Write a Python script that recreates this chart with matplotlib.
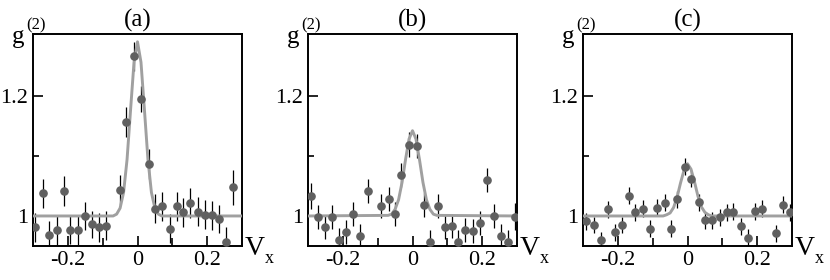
import numpy as np
import matplotlib
matplotlib.use("Agg")
import matplotlib.pyplot as plt
from matplotlib.ticker import FixedLocator

plt.rcParams['font.family'] = ['Liberation Serif', 'DejaVu Serif']
plt.rcParams['axes.unicode_minus'] = False

# panel (a)
xa = [-0.293, -0.271, -0.254, -0.232, -0.210, -0.193, -0.170, -0.151, -0.130, -0.111,
      -0.090, -0.049, -0.032, -0.009, 0.011, 0.032, 0.051, 0.071, 0.094, 0.113,
      0.131, 0.152, 0.173, 0.193, 0.214, 0.235, 0.254, 0.274]
ya = [0.981, 1.038, 0.968, 0.977, 1.042, 0.977, 0.976, 1.000, 0.986, 0.981,
      0.984, 1.044, 1.156, 1.266, 1.195, 1.086, 1.012, 1.016, 0.979, 1.016,
      1.006, 1.022, 1.007, 1.002, 1.001, 0.995, 0.956, 1.048]
ea = [0.024, 0.024, 0.024, 0.025, 0.025, 0.024, 0.024, 0.024, 0.022, 0.024,
      0.024, 0.025, 0.025, 0.024, 0.022, 0.025, 0.024, 0.024, 0.024, 0.024,
      0.024, 0.025, 0.024, 0.024, 0.024, 0.024, 0.025, 0.029]

# panel (b)
xb = [-0.291, -0.271, -0.251, -0.230, -0.211, -0.191, -0.170, -0.151, -0.129, -0.090,
      -0.068, -0.049, -0.032, -0.009, 0.012, 0.032, 0.051, 0.072, 0.094, 0.113,
      0.132, 0.152, 0.173, 0.195, 0.214, 0.235, 0.255, 0.275, 0.295]
yb = [1.033, 0.998, 0.982, 0.999, 0.960, 0.973, 1.003, 0.966, 1.042, 1.016,
      1.028, 1.004, 1.068, 1.119, 1.117, 1.019, 0.956, 1.016, 0.982, 0.984,
      0.956, 0.976, 0.975, 0.989, 1.060, 1.000, 0.967, 0.956, 0.999]
eb = [0.022, 0.020, 0.020, 0.020, 0.020, 0.020, 0.020, 0.020, 0.020, 0.020,
      0.020, 0.020, 0.020, 0.020, 0.020, 0.020, 0.020, 0.020, 0.020, 0.020,
      0.020, 0.020, 0.020, 0.020, 0.020, 0.020, 0.020, 0.020, 0.022]

# panel (c)
xc = [-0.291, -0.269, -0.249, -0.228, -0.209, -0.188, -0.167, -0.150, -0.129, -0.107,
      -0.088, -0.066, -0.048, -0.030, -0.008, 0.011, 0.033, 0.050, 0.071, 0.094,
      0.113, 0.132, 0.154, 0.175, 0.195, 0.215, 0.255, 0.275, 0.295]
yc = [0.991, 0.985, 0.960, 1.011, 0.973, 0.985, 1.034, 1.006, 1.012, 0.979,
      1.014, 1.022, 0.979, 1.028, 1.082, 1.062, 1.023, 0.993, 0.993, 0.998,
      1.006, 1.007, 0.983, 0.964, 1.008, 1.012, 0.971, 1.019, 1.006]
ec = [0.014] * 29

# fit curves
fit_x = [-0.3, -0.07, -0.06, -0.05, -0.04, -0.03, -0.02, -0.01, 0.0,
         0.01, 0.02, 0.03, 0.04, 0.05, 0.06, 0.07, 0.3]
fit_a = [1.0, 1.0, 1.003, 1.013, 1.039, 1.094, 1.176, 1.256, 1.29,
         1.256, 1.176, 1.094, 1.039, 1.013, 1.003, 1.0, 1.0]
fit_b = [1.0, 1.001, 1.003, 1.011, 1.027, 1.056, 1.094, 1.128, 1.142,
         1.128, 1.094, 1.056, 1.027, 1.011, 1.003, 1.001, 1.0]
fit_c = [1.0, 1.0, 1.002, 1.005, 1.014, 1.031, 1.055, 1.076, 1.087,
         1.078, 1.057, 1.033, 1.015, 1.006, 1.002, 1.0, 1.0]

panels = [("(a)", xa, ya, ea, fit_a), ("(b)", xb, yb, eb, fit_b), ("(c)", xc, yc, ec, fit_c)]
lefts = [33, 308, 583]

fig = plt.figure(figsize=(8.3, 2.8), dpi=100)

for (title, x, y, e, fit), l in zip(panels, lefts):
    ax = fig.add_axes([l / 830, 1 - 246 / 280, 209 / 830, 212 / 280])
    ax.errorbar(x, y, yerr=e, fmt='none', ecolor='black', elinewidth=0.9, capsize=0, zorder=2)
    ax.plot(fit_x, fit, color='#a0a0a0', lw=2.1, zorder=3, solid_joinstyle='round')
    ax.plot(x, y, 'o', color='#606060', ms=5.2, mec='#606060', zorder=4)
    ax.set_xlim(-0.3, 0.3)
    ax.set_ylim(0.95, 1.303)
    ax.set_xticks([-0.2, 0, 0.2])
    ax.set_xticklabels(['-0.2', '0', '0.2'])
    ax.xaxis.set_minor_locator(FixedLocator([-0.1, 0.1]))
    ax.set_yticks([1.0, 1.2])
    ax.set_yticklabels(['1', '1.2'])
    ax.yaxis.set_minor_locator(FixedLocator([1.1]))
    ax.tick_params(which='both', direction='in', top=False, right=False, labelsize=16)
    ax.tick_params(which='major', length=7, width=1.2, pad=3.5)
    ax.tick_params(which='minor', length=4, width=1.2)
    ax.tick_params(axis='x', which='minor', length=6)
    for s in ax.spines.values():
        s.set_linewidth(1.4)
    ax.set_title(title, fontsize=18, pad=5)
    # g^(2) label
    ax.text(-0.100, 0.958, 'g', transform=ax.transAxes, fontsize=18,
            ha='left', va='baseline')
    ax.text(-0.034, 1.024, '(2)', transform=ax.transAxes, fontsize=12,
            ha='left', va='baseline')
    # V_x label
    ax.text(1.014, -0.042, 'V', transform=ax.transAxes, fontsize=20,
            ha='left', va='baseline')
    ax.text(1.110, -0.080, 'x', transform=ax.transAxes, fontsize=13,
            ha='left', va='baseline')

fig.savefig("out.png", dpi=100)
